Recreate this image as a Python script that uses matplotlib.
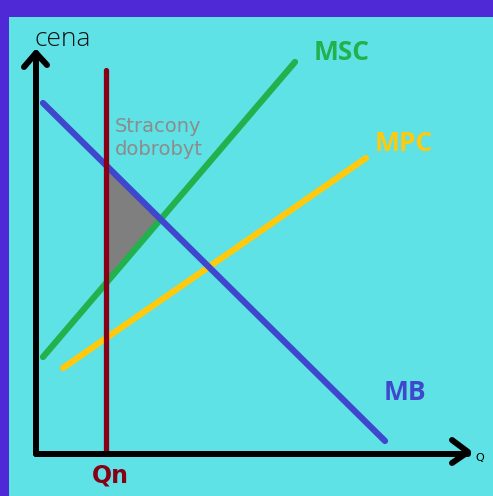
import matplotlib
matplotlib.use("Agg")
import matplotlib.pyplot as plt
import numpy as np

# Economic coordinates (Q to the right, price upward), origin at axis corner
mb_q = [7, 349]
mb_p = [351, 13]
msc_q = [7, 259]
msc_p = [97, 392]
mpc_q = [27, 330]
mpc_p = [86, 296]
qn = 70
qn_top = 384
y_axis_top = 401
x_axis_end = 432

labels = {"MSC": (306, 402), "MPC": (368, 311), "MB": (369, 61)}
label_colors = {"MSC": "#22B14C", "MPC": "#FFC90E", "MB": "#3F48CC"}

fig = plt.figure(figsize=(4.93, 4.96), dpi=100)
fig.patch.set_facecolor("#5029D6")
ax = fig.add_axes([9 / 493, 0, 484 / 493, 479 / 496])
ax.set_facecolor("#5EE2E6")
ax.set_xlim(-27, 457)
ax.set_ylim(-42, 437)
ax.set_xticks([])
ax.set_yticks([])
for s in ax.spines.values():
    s.set_visible(False)

def line_fn(qs, ps):
    k = (ps[1] - ps[0]) / (qs[1] - qs[0])
    return lambda q: ps[0] + k * (q - qs[0]), k

mb_f, kmb = line_fn(mb_q, mb_p)
msc_f, kmsc = line_fn(msc_q, msc_p)
# intersection MB & MSC
qi = (msc_f(0) - mb_f(0)) / (kmb - kmsc)
pi = mb_f(qi)
tri_q = [qn, qn, qi]
tri_p = [mb_f(qn), msc_f(qn), pi]
ax.fill(tri_q, tri_p, color="#7F7F7F", zorder=1, lw=0)

lw = 4.5
ax.plot(msc_q, msc_p, color="#22B14C", lw=lw, solid_capstyle="round", zorder=2)
ax.plot(mpc_q, mpc_p, color="#FFC90E", lw=lw, solid_capstyle="round", zorder=2)
ax.plot(mb_q, mb_p, color="#3F48CC", lw=lw, solid_capstyle="round", zorder=3)
ax.plot([qn, qn], [0, qn_top], color="#880015", lw=3.8, solid_capstyle="round", zorder=4)

# axes with arrows
ax.plot([0, 0], [0, y_axis_top], color="black", lw=4.3, solid_capstyle="round", zorder=5)
ax.plot([-12, 0, 11], [387, y_axis_top, 389], color="black", lw=4.3,
        solid_capstyle="round", solid_joinstyle="round", zorder=5)
ax.plot([0, x_axis_end], [0, 0], color="black", lw=4.3, solid_capstyle="round", zorder=5)
ax.plot([416, x_axis_end, 416], [14, 2, -9], color="black", lw=4.3,
        solid_capstyle="round", solid_joinstyle="round", zorder=5)

ax.text(-1, 415, "cena", fontsize=19, color="#111111", ha="left", va="center",
        family="Open Sans", fontweight="light")
ax.text(444, -4, "Q", fontsize=8, color="black", ha="center", va="center")
ax.text(74, -21, "Qn", fontsize=17, color="#880015", ha="center", va="center",
        fontweight="bold")
for name, (q, p) in labels.items():
    ax.text(q, p, name, fontsize=19, color=label_colors[name], ha="center",
            va="center", fontweight="bold", family="Open Sans")
ax.text(79, 316, "Stracony\ndobrobyt", fontsize=14, color="#8C8C8C", ha="left",
        va="center", linespacing=1.3)

fig.savefig("out.png", dpi=100, facecolor=fig.get_facecolor())
